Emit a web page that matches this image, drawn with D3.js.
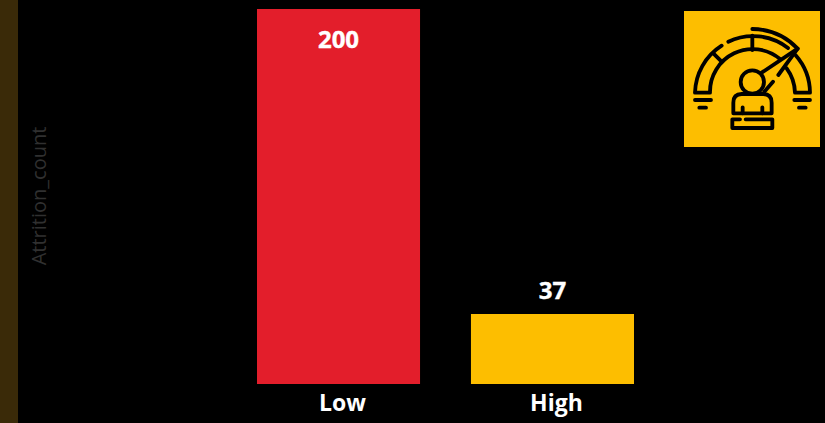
<!DOCTYPE html>
<html>
<head>
<meta charset="utf-8">
<script src="https://cdn.jsdelivr.net/npm/d3@7"></script>
<style>
html, body { margin: 0; padding: 0; background: #000; overflow: hidden; }
text { font-family: "Open Sans", sans-serif; }
</style>
</head>
<body>
<div id="chart-area"></div>
<script>
// Values
const categories = ["Low", "High"];
const attritionCount = [200, 37];
const barColors = ["#e31e2b", "#fdbe00"];
const yTitle = "Attrition_count";

const width = 825;
const height = 423;

const svg = d3.select("#chart-area")
    .append("svg")
    .attr("width", width)
    .attr("height", height)
    .style("display", "block");

// dark strip down the left edge
svg.append("rect")
    .attr("width", 18)
    .attr("height", height)
    .attr("fill", "#3a2a08");

const x = d3.scaleBand()
    .domain(categories)
    .range([257, 634])
    .paddingInner(0.238)
    .paddingOuter(0);

const y = d3.scaleLinear()
    .domain([0, 200])
    .range([384, 9]);

// snap bar tops to whole pixels so the edges stay crisp
const barTop = v => Math.floor(y(v));

svg.append("g")
    .selectAll("rect")
    .data(categories)
    .join("rect")
    .attr("x", d => x(d))
    .attr("y", (d, i) => barTop(attritionCount[i]))
    .attr("width", x.bandwidth())
    .attr("height", (d, i) => y(0) - barTop(attritionCount[i]))
    .attr("fill", (d, i) => barColors[i]);

// Value labels: inside the bar when it is tall, above it when short
svg.append("g")
    .selectAll("text")
    .data(categories)
    .join("text")
    .attr("x", d => x(d) + x.bandwidth() / 2)
    .attr("y", (d, i) => attritionCount[i] > 100 ? y(attritionCount[i]) + 39 : y(attritionCount[i]) - 16)
    .attr("text-anchor", "middle")
    .attr("fill", "white")
    .attr("stroke", "white")
    .attr("stroke-width", 0.4)
    .attr("font-size", 24)
    .attr("font-weight", 700)
    .text((d, i) => attritionCount[i]);

const xAxis = svg.append("g")
    .attr("transform", "translate(4,384)")
    .call(d3.axisBottom(x).tickSize(0).tickPadding(11));
xAxis.select(".domain").remove();
xAxis.selectAll("text")
    .attr("fill", "white")
    .attr("font-size", 23)
    .attr("font-weight", 700)
    .style("font-family", "'Open Sans', sans-serif");

svg.append("text")
    .attr("transform", "translate(46,196) rotate(-90)")
    .attr("text-anchor", "middle")
    .attr("fill", "#303030")
    .attr("font-size", 20)
    .text(yTitle);

// Gauge icon, traced in 3x zoom units
svg.append("rect")
    .attr("x", 684)
    .attr("y", 11)
    .attr("width", 136)
    .attr("height", 136)
    .attr("fill", "#fdbe00");

const icon = svg.append("g")
    .attr("transform", "translate(675,0) scale(0.3333)")
    .attr("fill", "none")
    .attr("stroke", "black")
    .attr("stroke-width", 11.5)
    .attr("stroke-linecap", "round")
    .attr("stroke-linejoin", "round");

const iconPaths = [
    "M140,137A172,172 0 0,0 60,278H105A128,128 0 0,1 315,177",
    "M160,125A172,172 0 0,1 339,144",
    "M232,87A190,190 0 0,1 368,146L310,225",
    "M368,146L260,218",
    "M362,166A172,172 0 0,1 405,278H360A128,128 0 0,0 335,205",
    "M115,160L140,185",
    "M232,107V150",
    "M60,300H108M73,323H93M358,300H405M372,323H392",
    "M294,245L268,275",
    "M175,340V308Q175,282 200,282H265Q290,282 290,308V340Z",
    "M203,322V340M262,322V340",
    "M212,358H292V384H172V358H195"
];
icon.selectAll("path")
    .data(iconPaths)
    .join("path")
    .attr("d", d => d);
icon.append("circle")
    .attr("cx", 232)
    .attr("cy", 246)
    .attr("r", 35)
    .attr("fill", "#fdbe00");
</script>
</body>
</html>
